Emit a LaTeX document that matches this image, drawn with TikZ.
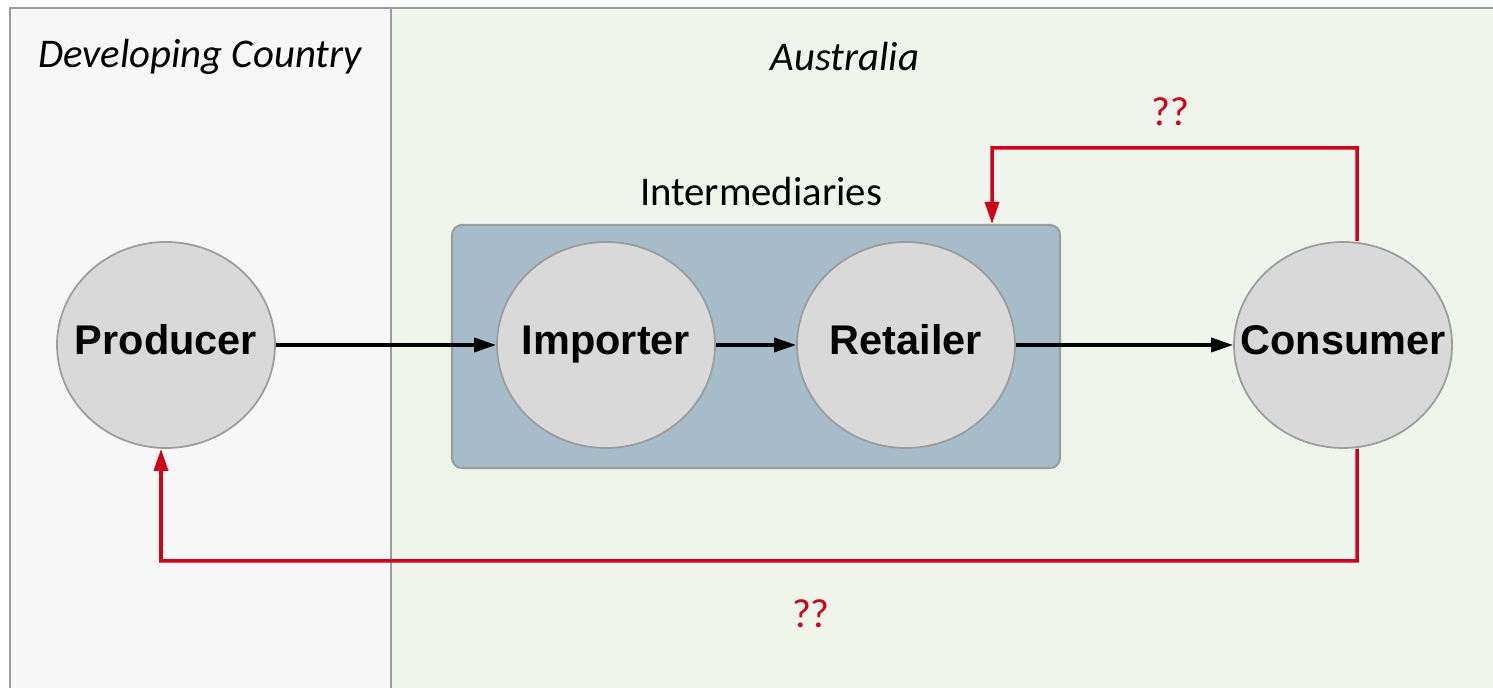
\documentclass[tikz,border=0pt]{standalone}
\usepackage{fontspec}
\setmainfont{Carlito}
\newfontfamily\nodefont{Liberation Sans}
\usetikzlibrary{shapes.geometric, arrows.meta}
\definecolor{panelgrey}{HTML}{F7F7F7}
\definecolor{panelgreen}{HTML}{EFF5EA}
\definecolor{edgegrey}{HTML}{9C9C9C}
\definecolor{boxblue}{HTML}{A6BDC9}
\definecolor{discgrey}{HTML}{D9D9D9}
\definecolor{flowred}{HTML}{D0021B}

\begin{document}
\begin{tikzpicture}[every node/.style={font=\fontsize{11.6}{14}\selectfont},
  actor/.style={ellipse, draw=edgegrey, line width=0.5pt, fill=discgrey, inner xsep=-0.3cm, inner ysep=0pt,
    text height=0.72em, text depth=0.2em,
    minimum width=2.18cm, minimum height=2.06cm, font=\nodefont\bfseries\fontsize{11.8}{14}\selectfont},
  flow/.style={line width=1pt, -{Triangle[length=2.2mm, width=1.4mm]}},
  back/.style={flow, flowred},
  query/.style={text=flowred}]
  \useasboundingbox (0,0) rectangle (14.93,6.88);
  % the two regions
  \fill[panelgrey] (0.10,0) rectangle (3.91,6.80);
  \fill[panelgreen] (3.91,0) rectangle (14.93,6.80);
  \draw[edgegrey, line width=0.6pt] (0.10,0) |- (14.93,6.80);
  \draw[edgegrey, line width=0.6pt] (3.91,0) -- (3.91,6.80);
  \node (dev) at (2.00,6.31) {\itshape Developing Country};
  \node (aus) at (8.45,6.31) {\itshape Australia};

  \node[draw=edgegrey, line width=0.6pt, fill=boxblue, rounded corners=0.1cm,
    minimum width=6.08cm, minimum height=2.43cm] (box) at (7.56,3.415) {};
  \node (boxlabel) at (7.61,4.96) {Intermediaries};

  \node[actor] (prod) at (1.66,3.43) {Producer};
  \node[actor] (imp) at (6.06,3.43) {Importer};
  \node[actor] (ret) at (9.06,3.43) {Retailer};
  \node[actor] (cons) at (13.43,3.43) {Consumer};

  \draw[flow] (prod) -- (imp);
  \draw[flow] (imp) -- (ret);
  \draw[flow] (ret) -- (cons);

  % return paths
  \coordinate (topbend) at (9.92,5.40);
  \coordinate (botbend) at (1.61,1.27);
  \draw[back] ([xshift=1.4mm]cons.north) |- (topbend) -- ([xshift=2.36cm]box.north);
  \draw[back] ([xshift=1.4mm]cons.south) |- (botbend) -- ([xshift=-0.5mm]prod.south);
  \node[query] (topq) at (11.70,5.76) {??};
  \node[query] (botq) at (8.11,0.74) {??};
\end{tikzpicture}
\end{document}
